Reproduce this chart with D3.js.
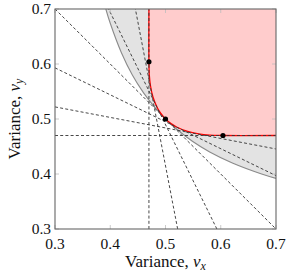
<!DOCTYPE html>
<html><head><meta charset="utf-8">
<script src="https://cdn.jsdelivr.net/npm/d3@7"></script>
<style>body{margin:0;background:#fff}</style>
</head><body>
<script>
// ---- data ----
const xTicks = [0.3, 0.4, 0.5, 0.6, 0.7];
const yTicks = [0.3, 0.4, 0.5, 0.6, 0.7];
const tickLabels = ["0.3", "0.4", "0.5", "0.6", "0.7"];
// feasible (red) region boundary
const redX = [0.47, 0.47, 0.4707, 0.4729, 0.4773, 0.4854, 0.4916, 0.5, 0.51, 0.52, 0.54, 0.56, 0.58, 0.604, 0.7];
const redY = [0.7, 0.604, 0.58, 0.56, 0.54, 0.52, 0.51, 0.5, 0.4916, 0.4854, 0.4773, 0.4729, 0.4707, 0.47, 0.47];
// gray region lower boundary
const grayX = [0.392, 0.4, 0.42, 0.44, 0.46, 0.48, 0.5, 0.522, 0.548, 0.58, 0.621, 0.674, 0.7];
const grayY = [0.7, 0.674, 0.621, 0.58, 0.548, 0.522, 0.5, 0.48, 0.46, 0.44, 0.42, 0.4, 0.392];
// dashed tangent lines (endpoints)
const lineX1 = [0.3, 0.47, 0.3, 0.3, 0.3, 0.593, 0.522];
const lineY1 = [0.47, 0.3, 0.7, 0.593, 0.522, 0.3, 0.3];
const lineX2 = [0.7, 0.47, 0.7, 0.7, 0.7, 0.397, 0.4455];
const lineY2 = [0.47, 0.7, 0.3, 0.397, 0.4455, 0.7, 0.7];
// marked points
const dotX = [0.47, 0.5, 0.604];
const dotY = [0.604, 0.5, 0.47];

// ---- layout ----
const W = 291, H = 273;
const L = 55, R = 276, T = 9, B = 229;
const x = d3.scaleLinear().domain([0.3, 0.7]).range([L, R]);
const y = d3.scaleLinear().domain([0.3, 0.7]).range([B, T]);

const svg = d3.select("body").append("svg").attr("width", W).attr("height", H);
svg.append("defs").append("clipPath").attr("id", "clip")
  .append("rect").attr("x", L).attr("y", T).attr("width", R - L).attr("height", B - T);
const g = svg.append("g").attr("clip-path", "url(#clip)");

const grayPts = grayX.map((v, i) => [v, grayY[i]]);
const redPts = redX.map((v, i) => [v, redY[i]]);
const line = d3.line().x(d => x(d[0])).y(d => y(d[1])).curve(d3.curveCatmullRom.alpha(0.5));

// gray fill
g.append("path")
  .attr("d", line(grayPts) + "L" + x(0.7) + "," + y(0.7) + "Z")
  .attr("fill", "#e3e3e3").attr("stroke", "none");
g.append("path").attr("d", line(grayPts))
  .attr("fill", "none").attr("stroke", "#8a8a8a").attr("stroke-width", 1.1);

// red fill
g.append("path")
  .attr("d", line(redPts) + "L" + x(0.7) + "," + y(0.7) + "Z")
  .attr("fill", "#ffcccc").attr("stroke", "none");
g.append("path").attr("d", line(redPts))
  .attr("fill", "none").attr("stroke", "#ff0000").attr("stroke-width", 1.3);

// dashed lines
g.selectAll("line.dash").data(lineX1).enter().append("line")
  .attr("x1", (d, i) => x(lineX1[i])).attr("y1", (d, i) => y(lineY1[i]))
  .attr("x2", (d, i) => x(lineX2[i])).attr("y2", (d, i) => y(lineY2[i]))
  .attr("stroke", "#333").attr("stroke-width", 0.9).attr("stroke-dasharray", "3,2.2");

// dots
svg.selectAll("circle").data(dotX).enter().append("circle")
  .attr("cx", (d, i) => x(dotX[i])).attr("cy", (d, i) => y(dotY[i])).attr("r", 2.6).attr("fill", "#000");

// ticks (inside, all four sides)
const tk = svg.append("g").attr("stroke", "#bdbdbd").attr("stroke-width", 0.8);
xTicks.forEach(v => {
  tk.append("line").attr("x1", x(v)).attr("x2", x(v)).attr("y1", B).attr("y2", B - 4);
  tk.append("line").attr("x1", x(v)).attr("x2", x(v)).attr("y1", T).attr("y2", T + 4);
});
yTicks.forEach(v => {
  tk.append("line").attr("y1", y(v)).attr("y2", y(v)).attr("x1", L).attr("x2", L + 4);
  tk.append("line").attr("y1", y(v)).attr("y2", y(v)).attr("x1", R).attr("x2", R - 4);
});

// frame
svg.append("rect").attr("x", L).attr("y", T).attr("width", R - L).attr("height", B - T)
  .attr("fill", "none").attr("stroke", "#666").attr("stroke-width", 1.1);

// tick labels
const font = "'Liberation Serif', 'DejaVu Serif', serif";
svg.selectAll("text.xt").data(xTicks).enter().append("text")
  .attr("x", d => x(d)).attr("y", 249).attr("text-anchor", "middle")
  .attr("font-family", font).attr("font-size", 15.5).attr("fill", "#111")
  .text((d, i) => tickLabels[i]);
svg.selectAll("text.yt").data(yTicks).enter().append("text")
  .attr("x", 51).attr("y", d => y(d) + 5.2).attr("text-anchor", "end")
  .attr("font-family", font).attr("font-size", 15.5).attr("fill", "#111")
  .text((d, i) => tickLabels[i]);

// axis titles
function title(sel, sub) {
  sel.attr("font-family", font).attr("font-size", 17).attr("fill", "#111").attr("text-anchor", "middle");
  sel.append("tspan").text("Variance, ");
  sel.append("tspan").attr("font-style", "italic").text("v");
  sel.append("tspan").attr("font-style", "italic").attr("font-size", 12).attr("dy", 3).text(sub);
}
const xt = svg.append("text").attr("x", (L + R) / 2).attr("y", 267);
title(xt, "x");
const yt = svg.append("text").attr("transform", `translate(20,${(T + B) / 2}) rotate(-90)`);
title(yt, "y");
</script>
</body></html>
